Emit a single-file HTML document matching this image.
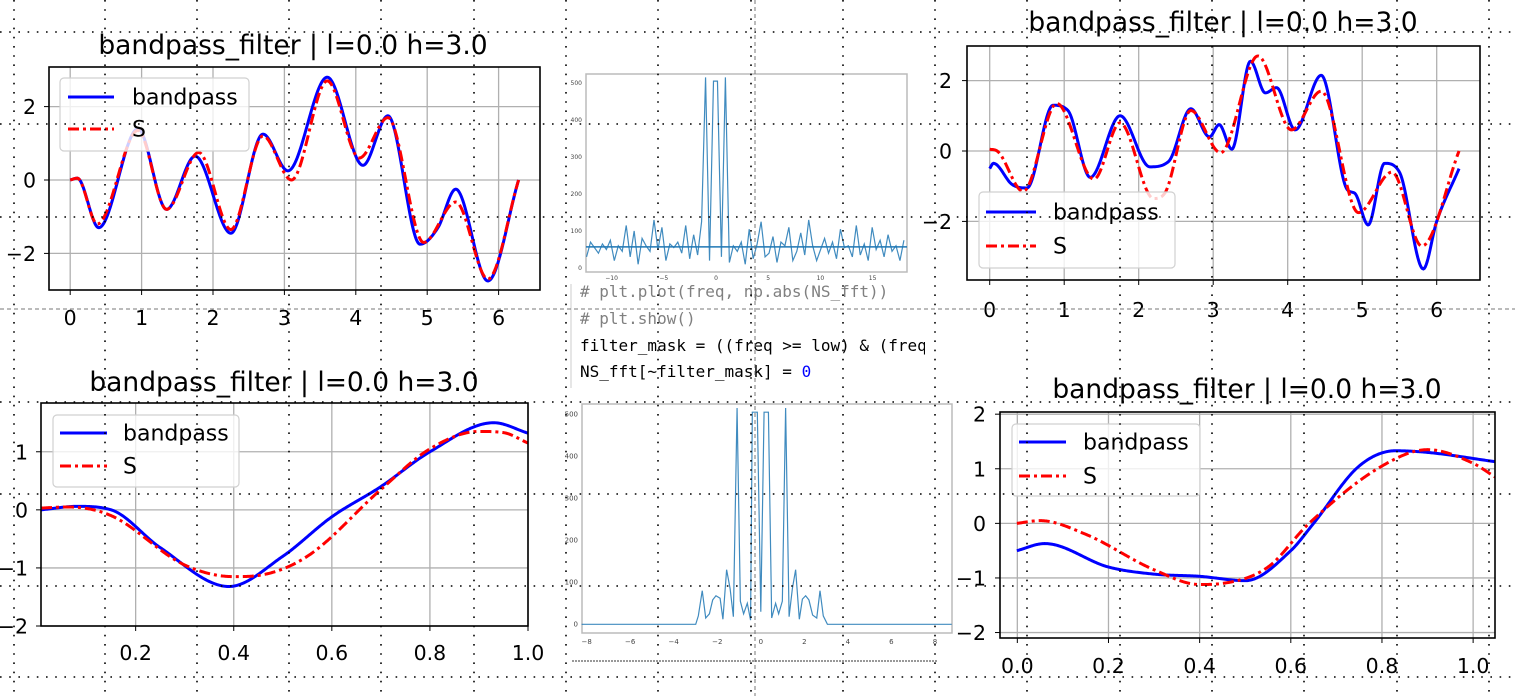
<!DOCTYPE html>
<html><head><meta charset="utf-8"><style>
html,body{margin:0;padding:0;background:#fff;width:1515px;height:696px;overflow:hidden}
svg{display:block;font-family:"DejaVu Sans","Liberation Sans",sans-serif}
</style></head><body>
<svg id="root" width="1515" height="696" viewBox="0 0 1515 696" xmlns="http://www.w3.org/2000/svg">
<g id="charts"></g>
<g id="code" font-family="DejaVu Sans Mono, Liberation Mono, monospace" font-size="16">
  <line x1="571" y1="284" x2="571" y2="388" stroke="#ccc" stroke-width="1"/>
  <text x="580" y="297" fill="#808080" font-family="DejaVu Sans Mono, Liberation Mono, monospace">#&#160;plt.plot(freq,&#160;np.abs(NS_fft))</text>
  <text x="580" y="324" fill="#808080" font-family="DejaVu Sans Mono, Liberation Mono, monospace">#&#160;plt.show()</text>
  <svg x="0" y="330" width="925" height="30" overflow="hidden"><text x="580" y="21" fill="#000" font-family="DejaVu Sans Mono, Liberation Mono, monospace" font-size="16">filter_mask&#160;=&#160;((freq&#160;&gt;=&#160;low)&#160;&amp;&#160;(freq&#160;&lt;=&#160;high))</text></svg>
  <text x="580" y="377" fill="#000" font-family="DejaVu Sans Mono, Liberation Mono, monospace">NS_fft[~filter_mask]&#160;=&#160;<tspan fill="#0000ff">0</tspan></text>
</g>
<g id="overlay"></g>
</svg>
<script>
// ---------- data ----------
const tlBandX=[0,0.1,0.4,0.95,1.35,1.75,2.25,2.7,3.05,3.6,4.1,4.45,4.9,5.15,5.4,5.85,6.28];
const tlBandY=[0,0.05,-1.3,1.4,-0.8,0.65,-1.45,1.25,0.25,2.8,0.4,1.75,-1.75,-1.3,-0.25,-2.75,0];
const tlSX=[0,0.1,0.38,0.95,1.35,1.8,2.25,2.7,3.1,3.6,4.05,4.45,4.95,5.4,5.85,6.28];
const tlSY=[0,0.05,-1.2,1.35,-0.8,0.75,-1.35,1.2,0,2.7,0.6,1.7,-1.7,-0.6,-2.7,0];

const trBandX=[0,0.05,0.3,0.5,0.85,1.05,1.35,1.75,2.15,2.4,2.7,2.95,3.08,3.25,3.5,3.7,3.85,4.1,4.45,4.8,4.9,5.08,5.3,5.5,5.82,6.0,6.3];
const trBandY=[-0.5,-0.35,-0.95,-1.05,1.3,1.15,-0.75,1.0,-0.45,-0.3,1.2,0.4,0.75,0.05,2.55,1.65,1.8,0.6,2.15,-1.1,-1.2,-2.1,-0.35,-0.6,-3.35,-2.0,-0.5];
const trSX=[0,0.1,0.45,0.9,1.4,1.75,2.2,2.35,2.7,3.1,3.6,4.05,4.45,4.95,5.4,5.8,6.3];
const trSY=[0.05,0,-1.15,1.35,-0.8,0.8,-1.35,-1.2,1.15,-0.05,2.7,0.6,1.7,-1.75,-0.6,-2.7,0];

const blBandX=[0.007,0.08,0.15,0.25,0.39,0.5,0.6,0.7,0.8,0.93,1.0];
const blBandY=[0,0.06,0,-0.65,-1.32,-0.8,-0.12,0.4,1.0,1.5,1.32];
const blSX=[0.007,0.06,0.15,0.3,0.4,0.45,0.55,0.7,0.8,0.9,0.95,1.0];
const blSY=[0.03,0.05,-0.1,-0.95,-1.15,-1.13,-0.8,0.35,1.05,1.35,1.33,1.15];

const brBandX=[-0.001,0.06,0.2,0.3,0.4,0.5,0.6,0.65,0.75,0.83,0.9,1.048];
const brBandY=[-0.5,-0.37,-0.8,-0.93,-0.97,-1.05,-0.5,0,1.05,1.33,1.3,1.13];
const brSX=[-0.001,0.05,0.15,0.3,0.4,0.45,0.55,0.64,0.8,0.9,1.0,1.048];
const brSY=[0,0.05,-0.2,-0.85,-1.12,-1.1,-0.8,0,1.05,1.35,1.1,0.85];

const fftTopStart=-12.4, fftTopStep=0.38;
const fftTopMag=[30,70,55,40,65,50,75,20,60,45,115,30,100,10,80,60,45,130,50,110,20,65,55,70,40,115,25,90,35,125,
515,20,505,505,30,515,15,
60,45,70,10,105,25,65,125,30,40,85,15,70,60,110,20,45,95,35,130,60,20,50,80,40,70,25,105,55,60,30,115,35,65,20,110,50,75,30,90,45,60,20,75];
const fftTopMean=57;
const fftTopXTicks=[-10,-5,0,5,10,15];
const fftTopYTicks=[0,100,200,300,400,500];

const fftBotFreq=[-8.23,-3.0,-2.99,-2.87,-2.69,-2.53,-2.36,-2.21,-2.06,-1.87,-1.74,-1.57,-1.41,-1.26,-1.09,-0.94,-0.79,-0.62,-0.47,-0.39,-0.16,0.0,0.15,0.35,0.5,0.68,0.82,0.99,1.14,1.30,1.45,1.60,1.77,1.91,2.06,2.21,2.38,2.57,2.72,2.87,3.06,8.77];
const fftBotMag=[0,0,0,20,80,15,25,58,68,62,12,130,85,18,515,55,25,50,10,505,505,30,505,505,15,50,25,55,515,18,85,130,12,60,68,58,22,15,80,20,0,0];
const fftBotXTicks=[-8,-6,-4,-2,0,2,4,6,8];
const fftBotYTicks=[0,100,200,300,400,500];

const titleText="bandpass_filter | l=0.0 h=3.0";
const tlXTicks=[0,1,2,3,4,5,6], tlYTicks=[-2,0,2];
const trXTicks=[0,1,2,3,4,5,6], trYTicks=[-2,0,2];
const blXTicks=[0.2,0.4,0.6,0.8,1.0], blYTicks=[-2,-1,0,1];
const brXTicks=[0.0,0.2,0.4,0.6,0.8,1.0], brYTicks=[-2,-1,0,1,2];

// ---------- helpers ----------
const NS="http://www.w3.org/2000/svg";
function mk(tag,attrs,parent){const e=document.createElementNS(NS,tag);for(const k in attrs)e.setAttribute(k,attrs[k]);if(parent)parent.appendChild(e);return e;}
function mono(xs,ys){
  const n=xs.length,d=[],m=new Array(n);
  for(let i=0;i<n-1;i++)d.push((ys[i+1]-ys[i])/(xs[i+1]-xs[i]));
  m[0]=d[0];m[n-1]=d[n-2];
  for(let i=1;i<n-1;i++){m[i]=(d[i-1]*d[i]<=0)?0:(d[i-1]+d[i])/2;}
  for(let i=0;i<n-1;i++){if(d[i]===0){m[i]=0;m[i+1]=0;continue;}const a=m[i]/d[i],b=m[i+1]/d[i],s=a*a+b*b;if(s>9){const t=3/Math.sqrt(s);m[i]=t*a*d[i];m[i+1]=t*b*d[i];}}
  return function(x){let i=0;while(i<n-2&&x>xs[i+1])i++;const h=xs[i+1]-xs[i],t=(x-xs[i])/h,t2=t*t,t3=t2*t;
    return (2*t3-3*t2+1)*ys[i]+(t3-2*t2+t)*h*m[i]+(-2*t3+3*t2)*ys[i+1]+(t3-t2)*h*m[i+1];};
}
const charts=document.getElementById('charts');

function lineChart(c){
  const g=mk('g',{},charts);
  
  
  const sx=v=>c.x0+(v-c.xmin)/(c.xmax-c.xmin)*(c.x1-c.x0);
  const sy=v=>c.y1-(v-c.ymin)/(c.ymax-c.ymin)*(c.y1-c.y0);
  const t=mk('text',{x:c.tx,y:c.ty,'text-anchor':'middle','font-size':26.5,fill:'#000'},g);t.textContent=titleText;
  
  
  const grid=mk('g',{stroke:'#b0b0b0','stroke-width':1.3},g);
  
  
  c.xt.forEach(v=>{const X=sx(v);mk('line',{x1:X,x2:X,y1:c.y0,y2:c.y1},grid);
    mk('line',{x1:X,x2:X,y1:c.y1,y2:c.y1+5,stroke:'#000'},g);
    const l=mk('text',{x:X,y:c.xly,'text-anchor':'middle','font-size':20.5},g);l.textContent=c.xfmt(v);
    
    });
  c.yt.forEach(v=>{const Y=sy(v);mk('line',{x1:c.x0,x2:c.x1,y1:Y,y2:Y},grid);
    mk('line',{x1:c.x0-5,x2:c.x0,y1:Y,y2:Y,stroke:'#000'},g);
    const l=mk('text',{x:c.ylx,y:Y+7.5,'text-anchor':'end','font-size':20.5},g);l.textContent=(v<0?'\u2212'+(-v):''+v);
    
    });
  const clipId='clip-'+c.name;
  const cp=mk('clipPath',{id:clipId},g);mk('rect',{x:c.x0,y:c.y0,width:c.x1-c.x0,height:c.y1-c.y0},cp);
  function series(xs,ys,col,dash,nm){
    const f=mono(xs,ys);let d='';const a=xs[0],b=xs[xs.length-1];
    for(let i=0;i<=500;i++){const x=a+(b-a)*i/500;d+=(i?'L':'M')+sx(x).toFixed(2)+','+sy(f(x)).toFixed(2);}
    const p=mk('path',{d:d,fill:'none',stroke:col,'stroke-width':3,'clip-path':'url(#'+clipId+')'},g);
    if(dash)p.setAttribute('stroke-dasharray',dash);
    
    
  }
  series(c.bx,c.by,'#0000ff',null,'bandpass-line');
  series(c.sxv,c.syv,'#ff0000','11,4,3,4','s-line');
  const fr=mk('rect',{x:c.x0,y:c.y0,width:c.x1-c.x0,height:c.y1-c.y0,fill:'none',stroke:'#000','stroke-width':1.6},g);
  
  
  const L=c.leg;const lg=mk('g',{},g);
  
  
  mk('rect',{x:L.x0,y:L.y0,width:L.x1-L.x0,height:L.y1-L.y0,rx:4,fill:'rgba(255,255,255,0.8)',stroke:'#d0d0d0','stroke-width':1.2},lg);
  const e1=mk('line',{x1:L.lx0,x2:L.lx1,y1:L.e1,y2:L.e1,stroke:'#0000ff','stroke-width':3},lg);
  
  
  const t1=mk('text',{x:L.tx,y:L.e1+7.5,'font-size':22},lg);t1.textContent='bandpass';
  
  
  const e2=mk('line',{x1:L.lx0,x2:L.lx1,y1:L.e2,y2:L.e2,stroke:'#ff0000','stroke-width':3,'stroke-dasharray':'11,4,3,4'},lg);
  
  
  const t2=mk('text',{x:L.tx,y:L.e2+7.5,'font-size':22},lg);t2.textContent='S';
  
  
}
const intFmt=v=>''+v, decFmt=v=>v.toFixed(1);
lineChart({name:'chart-top-left',x0:49,x1:540,y0:67,y1:290,xmin:(49-70.2)/71.4,xmax:(540-70.2)/71.4,ymin:-(290-180)/36.7,ymax:(180-67)/36.7,
  tx:293,ty:54,xly:325,ylx:36,xt:tlXTicks,yt:tlYTicks,xfmt:intFmt,bx:tlBandX,by:tlBandY,sxv:tlSX,syv:tlSY,
  leg:{x0:60,x1:249,y0:78,y1:151,lx0:68,lx1:114,tx:132,e1:97,e2:129}});
lineChart({name:'chart-top-right',x0:967,x1:1480,y0:46,y1:280,xmin:(967-989.7)/74.5,xmax:(1480-989.7)/74.5,ymin:-(280-151)/35.2,ymax:(151-46)/35.2,
  tx:1223,ty:31,xly:317,ylx:952,xt:trXTicks,yt:trYTicks,xfmt:intFmt,bx:trBandX,by:trBandY,sxv:trSX,syv:trSY,
  leg:{x0:979,x1:1175,y0:192,y1:268,lx0:986,lx1:1036,tx:1053,e1:212,e2:246}});
lineChart({name:'chart-bottom-left',x0:41,x1:528,y0:403,y1:626,xmin:0.007,xmax:1.0,ymin:-2,ymax:(509.7-403)/58,
  tx:284,ty:391,xly:660,ylx:28,xt:blXTicks,yt:blYTicks,xfmt:decFmt,bx:blBandX,by:blBandY,sxv:blSX,syv:blSY,
  leg:{x0:53,x1:239,y0:415,y1:487,lx0:60,lx1:107,tx:123,e1:433,e2:466}});
lineChart({name:'chart-bottom-right',x0:1000,x1:1495,y0:412,y1:638,xmin:-0.038,xmax:1.048,ymin:-2.1,ymax:2.04,
  tx:1247,ty:398,xly:673,ylx:986,xt:brXTicks,yt:brYTicks,xfmt:decFmt,bx:brBandX,by:brBandY,sxv:brSX,syv:brSY,
  leg:{x0:1012,x1:1200,y0:424,y1:496,lx0:1019,lx1:1066,tx:1083,e1:442,e2:476}});

// ---------- FFT mini-plots ----------
function fftPlot(c,xs,ys,xt,yt,mean){
  const g=mk('g',{},charts);
  
  
  const sx=v=>c.xz+v*c.kx, sy=v=>c.yz-v*c.ky;
  const fr=mk('rect',{x:c.x0,y:c.y0,width:c.x1-c.x0,height:c.y1-c.y0,fill:'#fff',stroke:'#bbb','stroke-width':1.5},g);
  
  
  xt.forEach(v=>{const l=mk('text',{x:sx(v),y:c.y1+c.lg,'text-anchor':'middle','font-size':c.fs,fill:'#444'},g);l.textContent=(v<0?'\u2212'+(-v):''+v);
    
    });
  yt.forEach(v=>{const l=mk('text',{x:c.x0-4,y:sy(v)+c.fs/3,'text-anchor':'end','font-size':c.fs,fill:'#444'},g);l.textContent=''+v;
    
    });
  let d='';xs.forEach((x,i)=>{d+=(i?'L':'M')+sx(x).toFixed(2)+','+sy(ys[i]).toFixed(2);});
  const p=mk('path',{d:d,fill:'none',stroke:'#1f77b4','stroke-width':1.2,'stroke-opacity':0.85},g);
  
  
  if(mean!==null){const m=mk('line',{x1:c.x0,x2:c.x1,y1:sy(mean),y2:sy(mean),stroke:'#1f77b4','stroke-width':1.5},g);
    
    }
}
const fftTopFreq=fftTopMag.map((_,i)=>fftTopStart+i*fftTopStep);
fftPlot({name:'fft-top',x0:586,x1:907,y0:74,y1:272,xz:716,kx:10.44,yz:268,ky:0.37,fs:6,lg:8},fftTopFreq,fftTopMag,fftTopXTicks,fftTopYTicks,fftTopMean);
fftPlot({name:'fft-bottom',x0:582,x1:952,y0:404,y1:633,xz:760.8,kx:21.77,yz:624.3,ky:0.42,fs:7,lg:11},fftBotFreq,fftBotMag,fftBotXTicks,fftBotYTicks,null);

// ---------- overlay ----------
const ov=document.getElementById('overlay');
const vLines=[14,105,197,289,381,474,566,658,751,843,935,1027,1120,1212,1304,1397,1489];
const hLines=[32,124,217,402,494,586,677];
vLines.forEach(x=>{const l=mk('line',{x1:x,x2:x,y1:0,y2:696,stroke:'#000','stroke-width':1.6,'stroke-dasharray':'1.6,7.6'},ov);
  
  });
hLines.forEach(y=>{const l=mk('line',{x1:0,x2:1515,y1:y,y2:y,stroke:'#000','stroke-width':1.6,'stroke-dasharray':'1.6,7.6'},ov);
  
  });
const dh=mk('line',{x1:0,x2:1515,y1:309,y2:309,stroke:'#777','stroke-width':1,'stroke-dasharray':'4,3'},ov);


const dv=mk('line',{x1:755,x2:755,y1:0,y2:696,stroke:'#777','stroke-width':1,'stroke-dasharray':'4,3'},ov);


const dh2=mk('line',{x1:572,x2:937,y1:661,y2:661,stroke:'#333','stroke-width':1,'stroke-dasharray':'2,1'},ov);


</script>
</body></html>
